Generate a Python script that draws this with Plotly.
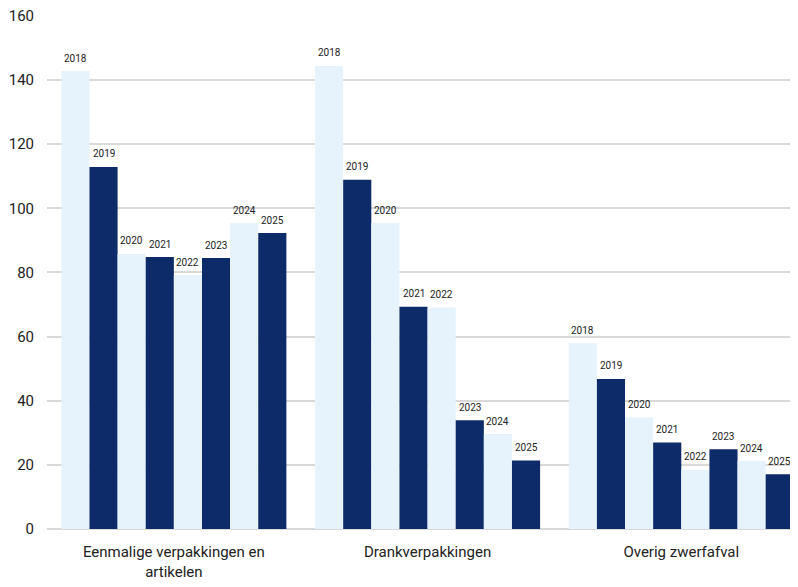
import plotly.graph_objects as go

categories = ["Eenmalige verpakkingen en<br>artikelen", "Drankverpakkingen", "Overig zwerfafval"]
years = ["2018", "2019", "2020", "2021", "2022", "2023", "2024", "2025"]
values = {
    "2018": [142.8, 144.4, 57.9],
    "2019": [112.9, 108.9, 46.8],
    "2020": [85.8, 95.4, 34.8],
    "2021": [84.8, 69.3, 27.0],
    "2022": [79.2, 69.1, 18.5],
    "2023": [84.5, 33.9, 24.9],
    "2024": [95.4, 29.6, 21.2],
    "2025": [92.3, 21.4, 17.1],
}
y_ticks = [0, 20, 40, 60, 80, 100, 120, 140, 160]
light = "#e6f3fd"
dark = "#0d2b69"
FONT = "Roboto, Arial, sans-serif"

W, H = 798, 587
ML, MR, MT, MB = 39, 8, 7, 66
XRANGE = [-0.5, 2.46]
YRANGE = [0, 160.3]
BARGAP = 0.113

fig = go.Figure()
for i, y in enumerate(years):
    fig.add_trace(go.Bar(
        x=categories, y=values[y], name=y,
        marker=dict(color=light if i % 2 == 0 else dark, line=dict(width=0)),
    ))

# year labels above each bar, offset by the bar's slot within its group
px_per_cat = (W - ML - MR) / (XRANGE[1] - XRANGE[0])
bar_px = px_per_cat * (1 - BARGAP) / len(years)
for i, y in enumerate(years):
    for c, v in zip(categories, values[y]):
        fig.add_annotation(
            x=c, y=v, xref="x", yref="y", text=y, showarrow=False,
            xshift=(i - (len(years) - 1) / 2) * bar_px, yshift=13,
            font=dict(size=10, color="#222222", family=FONT),
        )

fig.update_layout(
    width=W, height=H,
    margin=dict(l=ML, r=MR, t=MT, b=MB),
    paper_bgcolor="white", plot_bgcolor="white",
    barmode="group", bargap=BARGAP, bargroupgap=0,
    showlegend=False,
    font=dict(family=FONT, color="#222222"),
    xaxis=dict(type="category", range=XRANGE, showgrid=False, showline=False,
               ticks="", automargin=False, ticklabelstandoff=12,
               tickfont=dict(size=15, color="#222222")),
    yaxis=dict(range=YRANGE, tickvals=y_ticks, showgrid=True, gridcolor="#d9d9d9", gridwidth=1.5,
               zeroline=True, zerolinecolor="#d9d9d9", zerolinewidth=1.5,
               ticks="", automargin=False, ticklabelstandoff=12, ticklabeloverflow="allow",
               tickfont=dict(size=15, color="#222222")),
)
fig.write_html("out.html")
